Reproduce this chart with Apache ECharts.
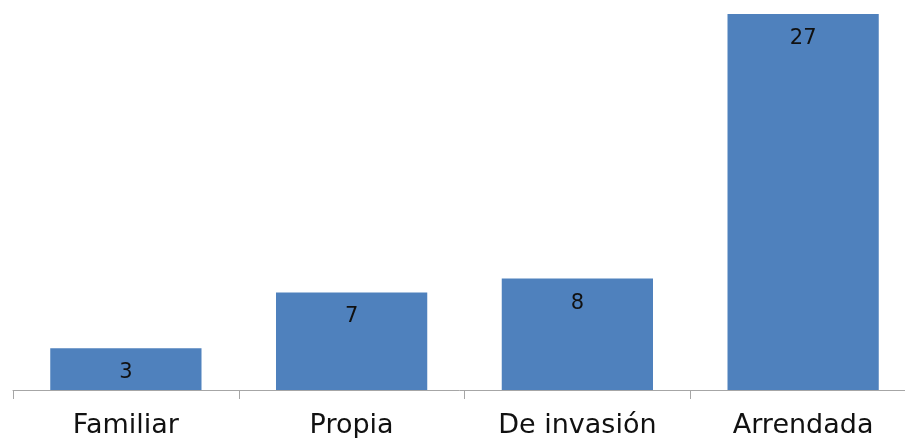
<!DOCTYPE html>
<html><head><meta charset="utf-8">
<script src="https://cdn.jsdelivr.net/npm/echarts@6/dist/echarts.min.js"></script>
<style>html,body{margin:0;padding:0;background:#fff;}#c{width:905px;height:438px;}</style>
</head><body><div id="c"></div>
<script>
var categories = ['Familiar', 'Propia', 'De invasión', 'Arrendada'];
var values = [3, 7, 8, 27];
var chart = echarts.init(document.getElementById('c'));
chart.setOption({
  animation: false,
  grid: { left: 13, width: 903, top: 14, height: 376, containLabel: false, outerBoundsMode: 'none' },
  xAxis: {
    type: 'category', data: categories,
    axisLine: { lineStyle: { color: '#A6A6A6', width: 1 } },
    axisTick: { show: true, length: 9, lineStyle: { color: '#A6A6A6' } },
    axisLabel: { fontFamily: 'DejaVu Sans', fontSize: 27, color: '#111', margin: 22, interval: 0 }
  },
  yAxis: { type: 'value', min: 0, max: 27, show: false, splitLine: { show: false } },
  series: [{
    type: 'bar', data: values, barCategoryGap: '33%',
    itemStyle: { color: '#4F81BD' },
    label: { show: true, position: 'insideTop', distance: 14, fontFamily: 'DejaVu Sans', fontSize: 21, color: '#111' }
  }]
});
</script></body></html>
